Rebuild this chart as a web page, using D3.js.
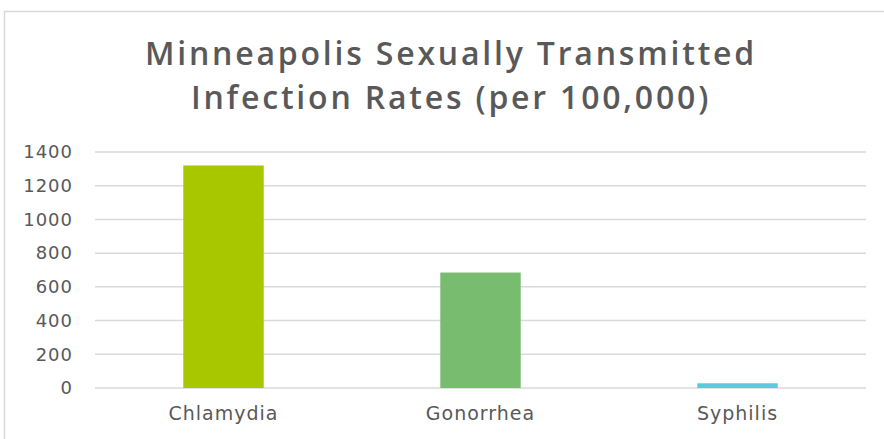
<!DOCTYPE html>
<html>
<head>
<meta charset="utf-8">
<script src="https://cdn.jsdelivr.net/npm/d3@7"></script>
<style>
  body { margin: 0; background: #fff; }
</style>
</head>
<body>
<div id="chart"></div>
<script>
"use strict"

// data
let categories = ["Chlamydia", "Gonorrhea", "Syphilis"];
let rates = [1320, 685, 28];
let barColors = ["#a8c700", "#78bd6f", "#5bc9e1"];
let yTicks = [0, 200, 400, 600, 800, 1000, 1200, 1400];
let titleLines = ["Minneapolis Sexually Transmitted", "Infection Rates (per 100,000)"];

let width = 884, height = 439;
let plotLeft = 95, plotRight = 866, plotTop = 152, plotBottom = 388;

let drawing = d3.select("#chart")
    .append("svg")
    .attr("width", width)
    .attr("height", height);

// outer chart border (cut off on right and bottom in the picture)
drawing.append("rect")
    .attr("x", 4.5)
    .attr("y", 11.5)
    .attr("width", 900)
    .attr("height", 460)
    .attr("fill", "none")
    .attr("stroke", "#d9d9d9")
    .attr("stroke-width", 1.5);

let title = drawing.append("text")
    .attr("text-anchor", "middle")
    .attr("fill", "#595959")
    .attr("font-family", "'Open Sans', sans-serif")
    .attr("font-size", 32)
    .attr("font-weight", 600)
    .attr("letter-spacing", 2.8);

title.selectAll("tspan")
    .data(titleLines)
    .enter()
    .append("tspan")
    .attr("x", 451)
    .attr("y", (d, i) => 64.5 + i * 44.5)
    .text(d => d);

let x = d3.scaleBand()
    .domain(categories)
    .range([plotLeft, plotRight])
    .paddingInner(0.687)
    .paddingOuter(0.3435);

let y = d3.scaleLinear()
    .domain([0, 1400])
    .range([plotBottom, plotTop]);

// gridlines
drawing.append("g")
    .selectAll("line")
    .data(yTicks)
    .enter()
    .append("line")
    .attr("x1", plotLeft)
    .attr("x2", plotRight)
    .attr("y1", d => y(d))
    .attr("y2", d => y(d))
    .attr("stroke", "#d9d9d9")
    .attr("stroke-width", 1.5);

// bars
drawing.append("g")
    .selectAll("rect")
    .data(rates)
    .enter()
    .append("rect")
    .attr("x", (d, i) => x(categories[i]))
    .attr("y", d => y(d))
    .attr("width", x.bandwidth())
    .attr("height", d => y(0) - y(d))
    .attr("fill", (d, i) => barColors[i]);

// y axis labels
let yAxis = drawing.append("g")
    .attr("transform", "translate(" + plotLeft + ",0)")
    .call(d3.axisLeft(y).tickValues(yTicks).tickFormat(d3.format("d")).tickSize(0).tickPadding(22));
yAxis.select(".domain").remove();
yAxis.selectAll("text")
    .attr("font-family", "DejaVu Sans, sans-serif")
    .attr("font-size", 18)
    .attr("letter-spacing", 1)
    .attr("fill", "#595959");

// category labels
let xAxis = drawing.append("g")
    .attr("transform", "translate(0," + plotBottom + ")")
    .call(d3.axisBottom(x).tickSize(0).tickPadding(19));
xAxis.select(".domain").remove();
xAxis.selectAll("text")
    .attr("font-family", "DejaVu Sans, sans-serif")
    .attr("font-size", 19)
    .attr("letter-spacing", 1)
    .attr("fill", "#595959");
</script>
</body>
</html>
